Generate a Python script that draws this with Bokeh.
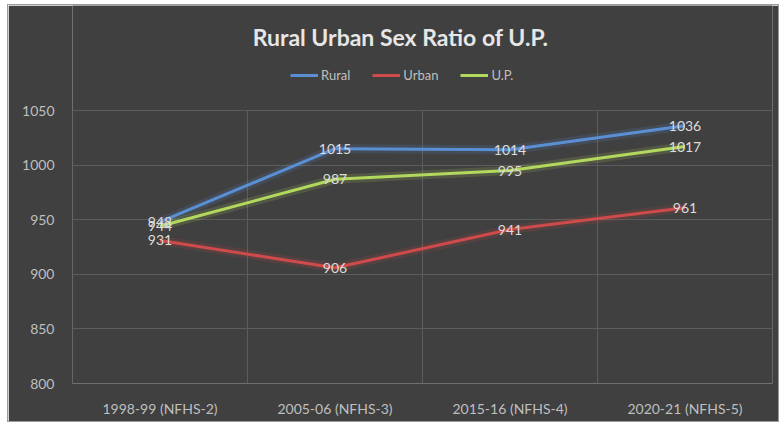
import numpy as np
from bokeh.plotting import figure
from bokeh.models import Range1d, FixedTicker, Legend, LegendItem, ColumnDataSource, Label
from bokeh.core.properties import value
from bokeh.embed import file_html
from bokeh.resources import INLINE

categories = ["1998-99 (NFHS-2)", "2005-06 (NFHS-3)", "2015-16 (NFHS-4)", "2020-21 (NFHS-5)"]
rural = [948, 1015, 1014, 1036]
urban = [931, 906, 941, 961]
up = [944, 987, 995, 1017]
y_ticks = [800, 850, 900, 950, 1000, 1050]
title_text = "Rural Urban Sex Ratio of U.P."

FONT = "Lato"
BG = "#404040"
GRID = "#5c5c5c"

n = len(categories)
xs = list(np.arange(n) + 0.5)

# frame geometry (px) : plot area spans 800..1050 over 273 px, extra headroom for title/legend
ymin, ymax = y_ticks[0], y_ticks[-1]
frame_h = 378
plot_h = 273
top_val = ymin + (ymax - ymin) * frame_h / plot_h

p = figure(width=770, height=416, output_backend="svg", toolbar_location=None,
           x_range=Range1d(0, n), y_range=Range1d(ymin, top_val),
           min_border_left=64, min_border_right=6, min_border_top=0, min_border_bottom=38,
           background_fill_color=BG, border_fill_color=BG, outline_line_color=None)
p.margin = (5, 5, 5, 8)
p.styles = {"outline": "1px solid #9a9a9a"}

p.xgrid.visible = False
p.ygrid.ticker = FixedTicker(ticks=y_ticks)
p.ygrid.grid_line_color = GRID
bx = list(range(n + 1))
p.segment(x0=bx, x1=bx, y0=[ymin] * len(bx), y1=[ymax] * len(bx), line_color=GRID, line_width=1)

p.xaxis.ticker = FixedTicker(ticks=xs)
p.xaxis.major_label_overrides = {x: c for x, c in zip(xs, categories)}
p.yaxis.ticker = FixedTicker(ticks=y_ticks)
for ax in (p.xaxis, p.yaxis):
    ax.axis_line_color = None
    ax.major_tick_line_color = None
    ax.minor_tick_line_color = None
    ax.major_label_text_font = FONT
    ax.major_label_text_font_size = "14px"
    ax.major_label_text_color = "#bfbfbf"
p.xaxis.major_label_standoff = 10
p.yaxis.major_label_standoff = 12

series = [("Rural", rural, "#5b8fd4"), ("Urban", urban, "#cf4b4b"), ("U.P.", up, "#b2d85e")]
items = []
for name, vals, col in series:
    src = ColumnDataSource(dict(x=xs, y=vals))
    p.line("x", "y", source=src, line_color=col, line_width=9, line_alpha=0.16)
    r = p.line("x", "y", source=src, line_color=col, line_width=3)
    items.append(LegendItem(label=name, renderers=[r]))
for name, vals, col in series:
    src = ColumnDataSource(dict(x=xs, y=vals, t=[str(v) for v in vals]))
    p.text("x", "y", text="t", source=src, text_align="center", text_baseline="middle",
           text_font=value(FONT), text_font_size="14px", text_color="#dcdcdc")

px_per_unit = plot_h / (ymax - ymin)
title = Label(x=(392 - 64) / 175, y=top_val - 31 / px_per_unit, text=title_text,
              text_align="center", text_baseline="middle", text_font=FONT,
              text_font_size="23px", text_font_style="bold", text_color="#e6e6e6")
p.add_layout(title)

legend = Legend(items=items, orientation="horizontal", location=(218, 300),
                background_fill_alpha=0, border_line_color=None,
                label_text_font=FONT, label_text_font_size="13px", label_text_color="#bfbfbf",
                glyph_width=28, glyph_height=16, spacing=22, label_standoff=3,
                padding=0, margin=0)
p.add_layout(legend, "center")

open("out.html", "w").write(file_html(p, INLINE))
